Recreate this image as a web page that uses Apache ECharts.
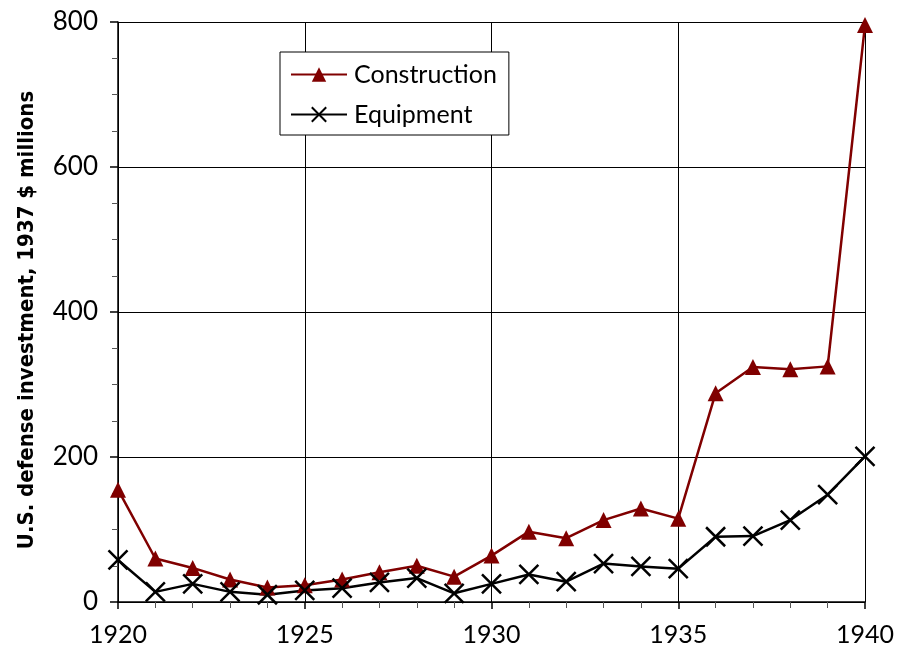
<!DOCTYPE html>
<html>
<head>
<meta charset="utf-8">
<script src="https://cdn.jsdelivr.net/npm/echarts@6/dist/echarts.min.js"></script>
<style>html,body{margin:0;padding:0;background:#fff}#c{width:904px;height:659px}</style>
</head>
<body>
<div id="c"></div>
<script>
const years = [1920,1921,1922,1923,1924,1925,1926,1927,1928,1929,1930,1931,1932,1933,1934,1935,1936,1937,1938,1939,1940];
const construction = [155,60,47,31,20,23,31,41,50,35,64,97,88,113,129,115,288,324,321,325,796];
const equipment = [58,14,25,14,10,16,19,27,33,12,25,38,28,53,49,46,90,91,113,148,201];
const seriesNames = ['Construction','Equipment'];
const yAxisTitle = 'U.S. defense investment, 1937 $ millions';

const tickFont = 'Lato, "Open Sans", sans-serif';
const chart = echarts.init(document.getElementById('c'), null, {renderer:'canvas'});
const pairs = arr => years.map((y,i)=>[y, arr[i]]);
const xPath = 'path://M0,0L10,10M10,0L0,10';
chart.setOption({
  animation:false,
  backgroundColor:'#fff',
  grid:{left:118,right:39,top:22,bottom:57,containLabel:false},
  legend:{
    orient:'vertical', left:280, top:52,
    backgroundColor:'#fff', borderColor:'#000', borderWidth:1,
    padding:[10,12,8,10], itemGap:15, itemWidth:56, itemHeight:18,
    textStyle:{fontFamily:tickFont, fontSize:25, color:'#000', padding:[0,0,0,2]},
    data:seriesNames
  },
  xAxis:{
    type:'value', min:1920, max:1940, interval:5,
    axisLine:{show:true,lineStyle:{color:'#000',width:1.5}},
    axisTick:{show:true,length:7,lineStyle:{color:'#000',width:1.5}},
    minorTick:{show:true,splitNumber:5,length:6,lineStyle:{color:'#555',width:1}},
    splitLine:{show:true,lineStyle:{color:'#000',width:1}},
    axisLabel:{fontFamily:tickFont,fontSize:25,color:'#000',margin:20,formatter:v=>String(v)}
  },
  yAxis:{
    type:'value', min:0, max:800, interval:200,
    name:yAxisTitle, nameLocation:'middle', nameGap:80,
    nameTextStyle:{fontFamily:'"Liberation Sans Narrow","DejaVu Sans Condensed","Liberation Sans",sans-serif',fontWeight:'bold',fontSize:22,color:'#000',padding:[0,0,0,-16]},
    axisLine:{show:true,lineStyle:{color:'#000',width:1.5}},
    axisTick:{show:true,length:8,lineStyle:{color:'#000',width:1.5}},
    minorTick:{show:true,splitNumber:4,length:6,lineStyle:{color:'#555',width:1}},
    splitLine:{show:true,lineStyle:{color:'#000',width:1}},
    axisLabel:{fontFamily:tickFont,fontSize:26,color:'#000',margin:20}
  },
  series:[
    {name:seriesNames[0],type:'line',data:pairs(construction),
     symbol:'triangle',symbolSize:16,showAllSymbol:true,
     lineStyle:{color:'#800000',width:2.5},
     itemStyle:{color:'#800000'}},
    {name:seriesNames[1],type:'line',data:pairs(equipment),
     symbol:xPath,symbolSize:19,showAllSymbol:true,
     lineStyle:{color:'#000',width:2.5},
     itemStyle:{color:'#000',borderColor:'#000',borderWidth:2.5}}
  ]
});
</script>
</body>
</html>
